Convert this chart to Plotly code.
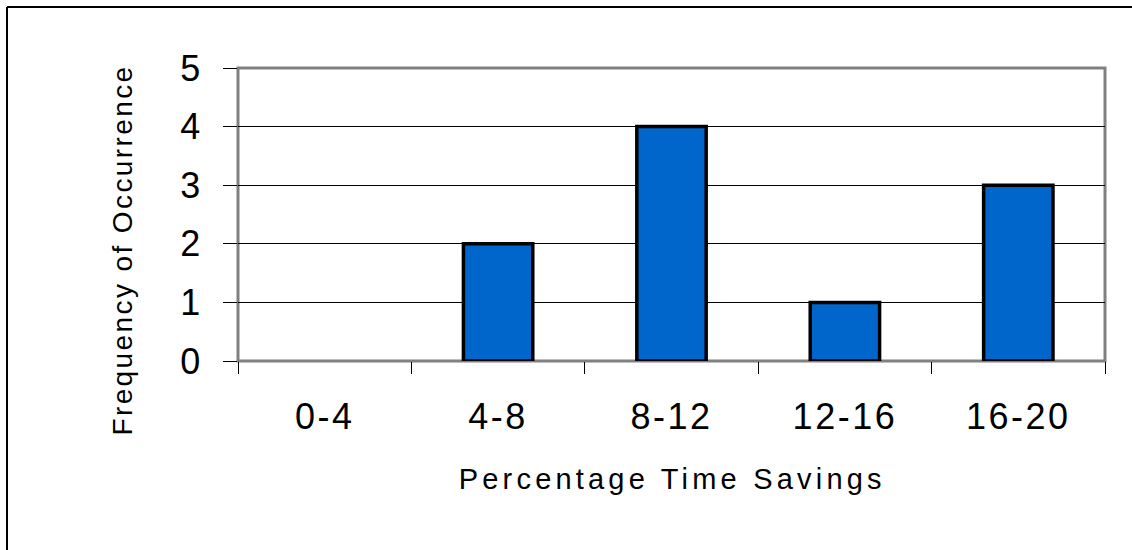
import plotly.graph_objects as go

categories = ["0-4", "4-8", "8-12", "12-16", "16-20"]
frequency = [0, 2, 4, 1, 3]
y_ticks = [0, 1, 2, 3, 4, 5]
x_title = "Percentage Time Savings"
y_title = "Frequency of Occurrence"

W, H = 1132, 550
L, R, T, B = 238, 27, 68, 189
pw, ph = W - L - R, H - T - B

def px_x(x):
    return (x - L) / pw

def px_y(y):
    return (H - B - y) / ph

fig = go.Figure(go.Bar(
    x=categories, y=frequency, width=0.4,
    marker=dict(color="#0066CC",
                line=dict(color="black", width=[3.5 if v > 0 else 0 for v in frequency])),
))

font = "Liberation Sans, Arial, sans-serif"
fig.update_layout(
    width=W, height=H,
    margin=dict(l=L, r=R, t=T, b=B, pad=0),
    paper_bgcolor="white", plot_bgcolor="white",
    showlegend=False,
    font=dict(family=font, color="black"),
    xaxis=dict(
        type="category", range=[-0.5, 4.5], tickson="boundaries",
        ticks="outside", ticklen=12, tickcolor="black", tickwidth=1,
        showgrid=False, showline=False, zeroline=False,
        tickfont=dict(size=36, family=font, color="black"),
        ticklabelstandoff=31,
    ),
    yaxis=dict(
        range=[0, 5], tickvals=y_ticks, ticks="outside", ticklen=14,
        tickcolor="black", tickwidth=1,
        showgrid=True, gridcolor="black", gridwidth=1,
        showline=False, zeroline=False,
        tickfont=dict(size=36, family=font, color="black"),
        ticklabelstandoff=13,
    ),
    shapes=[
        dict(type="rect", xref="paper", yref="paper", x0=0, x1=1, y0=0, y1=1,
             line=dict(color="#808080", width=3), layer="between"),
        dict(type="line", xref="paper", yref="paper",
             x0=px_x(7), x1=px_x(7), y0=px_y(7), y1=px_y(552),
             line=dict(color="black", width=2)),
        dict(type="line", xref="paper", yref="paper",
             x0=px_x(7), x1=px_x(1134), y0=px_y(7), y1=px_y(7),
             line=dict(color="black", width=2)),
    ],
    annotations=[
        dict(text=x_title, xref="paper", yref="paper",
             x=px_x(672), y=px_y(479), xanchor="center", yanchor="middle",
             showarrow=False, font=dict(size=29, family=font, color="black")),
        dict(text=y_title, xref="paper", yref="paper", textangle=-90,
             x=px_x(122), y=px_y(250), xanchor="center", yanchor="middle",
             showarrow=False, font=dict(size=28, family=font, color="black")),
    ],
)

post = """
document.body.style.margin = '0';
document.body.style.overflow = 'hidden';
var gd = document.getElementById('{plot_id}');
function ls(){
  gd.querySelectorAll('.xtick text').forEach(function(t){t.style.letterSpacing='2.5px';});
  gd.querySelectorAll('.ytick text').forEach(function(t){t.style.letterSpacing='2.5px';});
  var a = gd.querySelectorAll('.annotation-text');
  if (a[0]) a[0].style.letterSpacing='4.2px';
  if (a[1]) a[1].style.letterSpacing='2.4px';
}
ls();
gd.on('plotly_afterplot', ls);
"""
fig.write_html("out.html", post_script=post, config={"displayModeBar": False})
